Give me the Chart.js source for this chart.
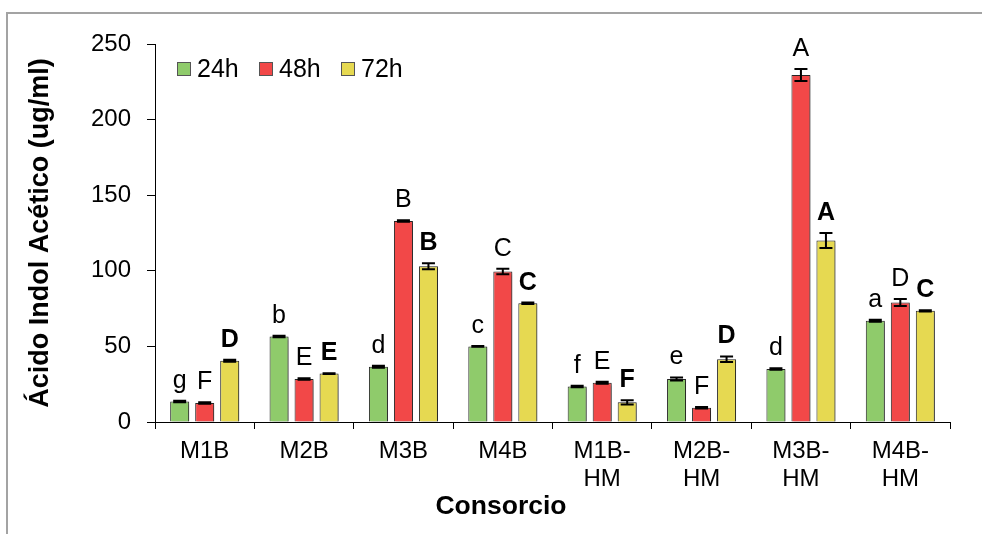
<!DOCTYPE html>
<html>
<head>
<meta charset="utf-8">
<title>Ácido Indol Acético por consorcio</title>
<script src="https://cdn.jsdelivr.net/npm/chart.js@4/dist/chart.umd.min.js"></script>
<style>
  html, body { margin: 0; padding: 0; background: #fff; }
  #wrap { position: relative; width: 982px; height: 534px; }
</style>
</head>
<body>
<div id="wrap"><canvas id="c" width="982" height="534"></canvas></div>
<script>
// Consortia (two-line labels where the name wraps)
const categories = ['M1B', 'M2B', 'M3B', 'M4B', ['M1B-', 'HM'], ['M2B-', 'HM'], ['M3B-', 'HM'], ['M4B-', 'HM']];
const seriesNames = ['24h', '48h', '72h'];

// Mean IAA concentration (ug/ml)
const values24 = [13.5, 56.5, 36.5, 50.0, 23.5, 28.5, 35.0, 67.0];
const values48 = [12.5, 28.5, 133.0, 99.5, 26.0, 9.5, 229.5, 79.0];
const values72 = [40.5, 32.0, 103.0, 78.5, 13.0, 41.5, 120.0, 73.5];

// Standard error of each mean
const errors24 = [0.5, 0.5, 0.7, 0.3, 0.5, 1.0, 0.5, 0.7];
const errors48 = [0.5, 0.5, 0.5, 1.8, 0.7, 0.5, 4.0, 2.3];
const errors72 = [0.7, 0.3, 2.0, 0.5, 1.4, 1.9, 5.0, 0.4];

// Significance groups
const letters24 = ['g', 'b', 'd', 'c', 'f', 'e', 'd', 'a'];
const letters48 = ['F', 'E', 'B', 'C', 'E', 'F', 'A', 'D'];
const letters72 = ['D', 'E', 'B', 'C', 'F', 'D', 'A', 'C'];

const yTicks = [0, 50, 100, 150, 200, 250];

const FONT = "'Liberation Sans', Arial, sans-serif";
const colors = ['#8fcb6b', '#f24848', '#e6d951'];
const errorSets = [errors24, errors48, errors72];
const letterSets = [letters24, letters48, letters72];
const boldLetters = [false, false, true];

// Light frame around the figure
const framePlugin = {
  id: 'frame',
  beforeDraw(chart) {
    const ctx = chart.ctx;
    ctx.save();
    ctx.strokeStyle = '#a3a3a3';
    ctx.lineWidth = 2;
    ctx.beginPath();
    ctx.moveTo(7, chart.height);
    ctx.lineTo(7, 13);
    ctx.lineTo(chart.width, 13);
    ctx.stroke();
    ctx.restore();
  }
};

// Soft drop shadow under the bars
const shadowPlugin = {
  id: 'barShadow',
  beforeDatasetsDraw(chart) {
    const ctx = chart.ctx;
    ctx.save();
    ctx.shadowColor = 'rgba(0,0,0,0.35)';
    ctx.shadowBlur = 2;
    ctx.shadowOffsetX = 2;
    ctx.shadowOffsetY = 1;
  },
  afterDatasetsDraw(chart) {
    chart.ctx.restore();
  }
};

// Error bars and significance letters above each bar
const errorLetterPlugin = {
  id: 'errorLetters',
  afterDatasetsDraw(chart) {
    const ctx = chart.ctx;
    const y = chart.scales.y;
    ctx.save();
    chart.data.datasets.forEach((ds, di) => {
      const meta = chart.getDatasetMeta(di);
      meta.data.forEach((bar, i) => {
        const v = ds.data[i];
        const e = errorSets[di][i];
        const top = y.getPixelForValue(v + e);
        const bot = y.getPixelForValue(v - e);
        const x = bar.x;
        ctx.strokeStyle = '#000';
        ctx.lineWidth = 2;
        ctx.beginPath();
        ctx.moveTo(x, top); ctx.lineTo(x, bot);
        ctx.moveTo(x - 6.5, top); ctx.lineTo(x + 6.5, top);
        ctx.moveTo(x - 6.5, bot); ctx.lineTo(x + 6.5, bot);
        ctx.stroke();

        ctx.fillStyle = '#000';
        ctx.textAlign = 'center';
        ctx.textBaseline = 'alphabetic';
        ctx.font = (boldLetters[di] ? 'bold ' : '') + '25px ' + FONT;
        ctx.fillText(letterSets[di][i], x, top - 13);
      });
    });
    ctx.restore();
  }
};

// Legend drawn inside the plot area, top left
const innerLegendPlugin = {
  id: 'innerLegend',
  afterDraw(chart) {
    const ctx = chart.ctx;
    const area = chart.chartArea;
    ctx.save();
    ctx.font = '25px ' + FONT;
    ctx.textBaseline = 'middle';
    ctx.textAlign = 'left';
    chart.data.datasets.forEach((ds, i) => {
      const bx = area.left + 22 + i * 82;
      const by = area.top + 18;
      ctx.fillStyle = ds.backgroundColor;
      ctx.fillRect(bx, by, 14, 14);
      ctx.strokeStyle = '#555';
      ctx.lineWidth = 1;
      ctx.strokeRect(bx + 0.5, by + 0.5, 13, 13);
      ctx.fillStyle = '#000';
      ctx.fillText(ds.label, bx + 20, by + 8);
    });
    ctx.restore();
  }
};

// X axis title
const xTitlePlugin = {
  id: 'xTitle',
  afterDraw(chart) {
    const ctx = chart.ctx;
    ctx.save();
    ctx.font = 'bold 26.5px ' + FONT;
    ctx.fillStyle = '#000';
    ctx.textAlign = 'center';
    ctx.textBaseline = 'middle';
    ctx.fillText('Consorcio', 501, 507);
    ctx.restore();
  }
};

const seriesValues = [values24, values48, values72];

new Chart(document.getElementById('c'), {
  type: 'bar',
  data: {
    labels: categories,
    datasets: seriesNames.map((name, i) => ({
      label: name,
      data: seriesValues[i],
      backgroundColor: colors[i],
      borderColor: '#262626',
      borderWidth: 1,
      categoryPercentage: 0.755,
      barPercentage: 0.76
    }))
  },
  options: {
    responsive: false,
    animation: false,
    devicePixelRatio: 1,
    layout: { padding: { top: 44, right: 32, left: 0, bottom: 0 } },
    plugins: {
      legend: { display: false },
      tooltip: { enabled: false }
    },
    scales: {
      x: {
        offset: true,
        grid: { display: true, drawOnChartArea: false, drawTicks: true, tickLength: 7, color: '#000', offset: true },
        border: { color: '#000', width: 1 },
        ticks: {
          font: { family: FONT, size: 24, lineHeight: 1.18 },
          color: '#000',
          padding: 8,
          maxRotation: 0,
          autoSkip: false
        },
        afterFit(scale) { scale.height = 112; }
      },
      y: {
        min: 0,
        max: 250,
        afterBuildTicks(scale) { scale.ticks = yTicks.map(v => ({ value: v })); },
        grid: { display: true, drawOnChartArea: false, drawTicks: true, tickLength: 8, color: '#000' },
        border: { color: '#000', width: 1 },
        ticks: {
          font: { family: FONT, size: 24 },
          color: '#000',
          padding: 16
        },
        title: {
          display: true,
          text: 'Ácido Indol Acético (ug/ml)',
          color: '#000',
          font: { family: FONT, size: 27, weight: 'bold', lineHeight: 1.2 },
          padding: { top: 24, bottom: 0 }
        },
        afterFit(scale) { scale.width = 155; }
      }
    }
  },
  plugins: [framePlugin, shadowPlugin, errorLetterPlugin, innerLegendPlugin, xTitlePlugin]
});
</script>
</body>
</html>
